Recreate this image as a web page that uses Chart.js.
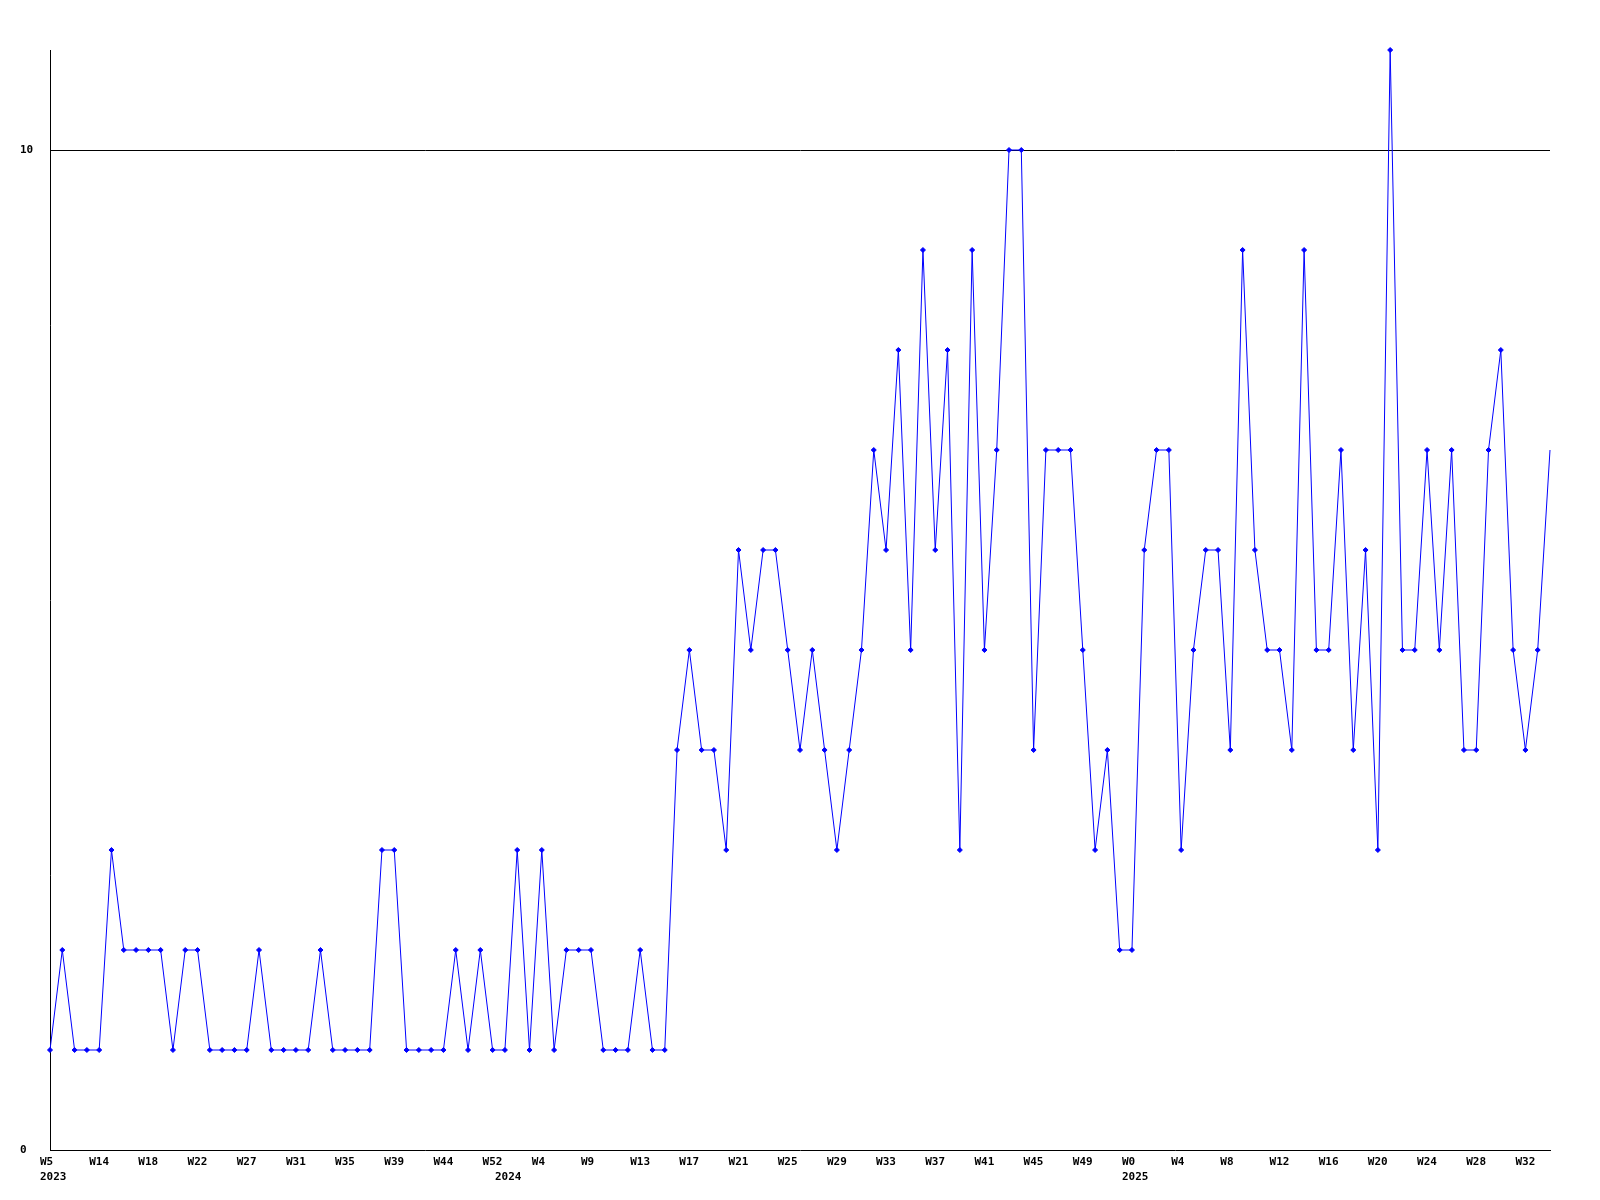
<!DOCTYPE html>
<html>
<head>
<meta charset="utf-8">
<script src="https://cdn.jsdelivr.net/npm/chart.js@4/dist/chart.umd.min.js"></script>
<style>
  html, body { margin: 0; padding: 0; background: #ffffff; }
  #wrap { width: 1600px; height: 1200px; position: relative; }
</style>
</head>
<body>
<div id="wrap"><canvas id="chart"></canvas></div>
<script>
/* weekly counts, one value per point */
var counts = [
  1, 2, 1, 1, 1, 3, 2, 2, 2, 2,
  1, 2, 2, 1, 1, 1, 1, 2, 1, 1,
  1, 1, 2, 1, 1, 1, 1, 3, 3, 1,
  1, 1, 1, 2, 1, 2, 1, 1, 3, 1,
  3, 1, 2, 2, 2, 1, 1, 1, 2, 1,
  1, 4, 5, 4, 4, 3, 6, 5, 6, 6,
  5, 4, 5, 4, 3, 4, 5, 7, 6, 8,
  5, 9, 6, 8, 3, 9, 5, 7, 10, 10,
  4, 7, 7, 7, 5, 3, 4, 2, 2, 6,
  7, 7, 3, 5, 6, 6, 4, 9, 6, 5,
  5, 4, 9, 5, 5, 7, 4, 6, 3, 11,
  5, 5, 7, 5, 7, 4, 4, 7, 8, 5,
  4, 5, 7
];

/* week tick labels, one every 4 points */
var weekTicks = ['W5', 'W14', 'W18', 'W22', 'W27', 'W31', 'W35', 'W39', 'W44', 'W52',
  'W4', 'W9', 'W13', 'W17', 'W21', 'W25', 'W29', 'W33', 'W37', 'W41', 'W45', 'W49',
  'W0', 'W4', 'W8', 'W12', 'W16', 'W20', 'W24', 'W28', 'W32'];
var weekEvery = 4;

/* year labels and the point index they sit under */
var yearNames = ['2023', '2024', '2025'];
var yearIndex = [0, 37, 88];

var yTicks = [0, 10];

var labels = counts.map(function(v, i) { return String(i); });

var FONT = {family: 'DejaVu Sans Mono', size: 11, weight: 'bold', lineHeight: 15 / 11};

function xTickText(i) {
  var wk = (i % weekEvery === 0) ? weekTicks[i / weekEvery] : null;
  var yi = yearIndex.indexOf(i);
  if (yi >= 0) return [wk || '', yearNames[yi]];
  return wk || '';
}

new Chart(document.getElementById('chart'), {
  type: 'line',
  data: {
    labels: labels,
    datasets: [{
      data: counts,
      borderColor: '#0000ff',
      backgroundColor: '#0000ff',
      borderWidth: 1,
      tension: 0,
      clip: 6,
      pointStyle: 'rectRot',
      pointRadius: counts.map(function(v, i) { return i === counts.length - 1 ? 0 : 2.5; }),
      pointBorderWidth: 1,
      pointBackgroundColor: '#0000ff',
      pointBorderColor: '#0000ff',
      fill: false
    }]
  },
  options: {
    responsive: true, maintainAspectRatio: false,
    animation: false,
    layout: {padding: {left: 20, top: 50, right: 50, bottom: 0}},
    plugins: {legend: {display: false}, tooltip: {enabled: false}},
    scales: {
      x: {
        type: 'category',
        offset: false,
        grid: {display: false, drawTicks: false},
        border: {display: true, color: '#000000', width: 1},
        ticks: {
          autoSkip: false, maxRotation: 0, minRotation: 0,
          align: 'start', labelOffset: -10, padding: 5,
          color: '#000000', font: FONT,
          callback: function(val, i) { return xTickText(i); }
        },
        afterFit: function(s) { s.height = 50; }
      },
      y: {
        min: 0, max: 11,
        grid: {
          drawTicks: false,
          color: function(c) { return c.tick && c.tick.value === 10 ? '#000000' : 'rgba(0,0,0,0)'; },
          lineWidth: 1
        },
        border: {display: true, color: '#000000', width: 1},
        afterBuildTicks: function(s) { s.ticks = yTicks.map(function(v) { return {value: v}; }); },
        ticks: {
          crossAlign: 'far', padding: 0,
          color: '#000000', font: FONT
        },
        afterFit: function(s) { s.width = 30; }
      }
    }
  }
});
</script>
</body>
</html>
